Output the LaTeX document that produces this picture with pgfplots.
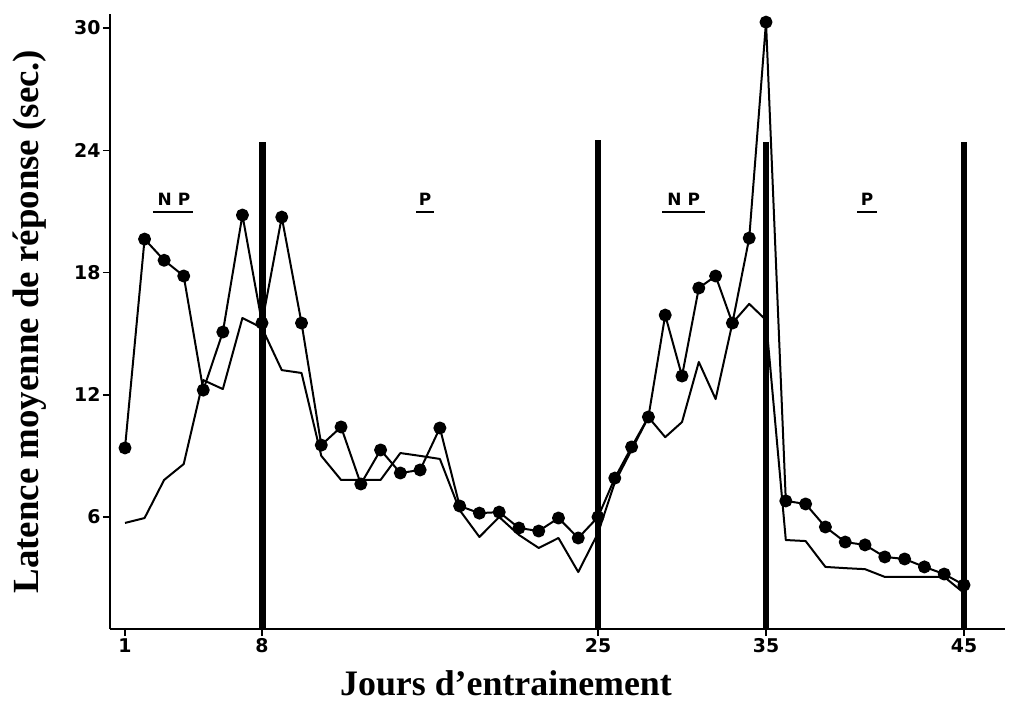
\documentclass[border=0pt]{standalone}
\usepackage{pgfplots}
\pgfplotsset{compat=1.18}
\usepackage{fontspec}
\setmainfont{Liberation Serif}
\newfontfamily\tickfont{DejaVu Sans}

\pgfplotstableread{
day val
1 9.39
2 19.64
3 18.6
4 17.83
5 12.23
6 15.08
7 20.82
8 15.52
9 20.72
10 15.52
11 9.53
12 10.42
13 7.62
14 9.29
15 8.16
16 8.31
17 10.37
18 6.54
19 6.19
20 6.24
21 5.46
22 5.31
23 5.95
24 4.97
25 6.0
26 7.91
27 9.44
28 10.91
29 15.91
30 12.92
31 17.24
32 17.83
33 15.52
34 19.69
35 30.29
36 6.79
37 6.64
38 5.51
39 4.77
40 4.63
41 4.04
42 3.94
43 3.55
44 3.2
45 2.66
}\dotdata

\pgfplotstableread{
day val
1 5.71
2 5.95
3 7.82
4 8.6
5 12.72
6 12.28
7 15.77
8 15.28
9 13.21
10 13.07
11 9.0
12 7.82
13 7.82
14 7.82
15 9.14
16 9.0
17 8.85
18 6.34
19 5.02
20 6.0
21 5.12
22 4.48
23 4.97
24 3.3
25 5.21
26 7.7
27 9.3
28 10.9
29 9.92
30 10.66
31 13.61
32 11.79
33 15.52
34 16.46
35 15.67
36 4.87
37 4.82
38 3.55
39 3.49
40 3.44
41 3.06
42 3.06
43 3.06
44 3.06
45 2.27
}\linedata

\begin{document}
\begin{tikzpicture}
\begin{axis}[
  name=ax,
  scale only axis, width=895bp, height=615bp,
  x coord trafo/.code={\pgfmathparse{ifthenelse(#1<8, 125+(#1-1)*19.5714, ifthenelse(#1<25, 262+(#1-8)*19.7647, ifthenelse(#1<35, 598+(#1-25)*16.8, 766+(#1-35)*19.8)))}},
  xmin=0.2336, xmax=47.07,
  ymin=0.503, ymax=30.69,
  axis lines*=left,
  axis line style={line width=1.8bp, black},
  xtick={1,8,25,35,45},
  xticklabels={1,8,25,35,45},
  ytick={6,12,18,24,30},
  yticklabels={6,12,18,24,30},
  tick align=outside,
  major tick length=7bp,
  tick style={line width=1.5bp, black},
  /pgf/number format/assume math mode=true,
  tick label style={font=\tickfont\bfseries\fontsize{19}{19}\selectfont},
  yticklabel style={xshift=1bp},
  xticklabel style={yshift=1bp},
  xlabel={Jours d’entrainement},
  ylabel={Latence moyenne de réponse (sec.)},
  xlabel style={font=\bfseries\fontsize{36}{36}\selectfont, at={(axis description cs:0.4425,-0.108)}, anchor=base},
  ylabel style={font=\bfseries\fontsize{37}{37}\selectfont, at={(axis description cs:-0.0804,0.5)}, anchor=base},
  clip=false,
]
% phase separators
\addplot[black, line width=7bp, line cap=butt] coordinates {(8,0.503) (8,24.4)};
\addplot[black, line width=5.5bp, line cap=butt] coordinates {(25,0.503) (25,24.5)};
\addplot[black, line width=6.5bp, line cap=butt] coordinates {(35,0.503) (35,24.4)};
\addplot[black, line width=5.5bp, line cap=butt] coordinates {(45,0.503) (45,24.4)};
% series
\addplot[black, line width=2bp, line join=round] table[x=day, y=val] {\linedata};
\addplot[black, line width=2bp, line join=round, mark=*, mark size=5.5bp, mark options={solid, fill=black}] table[x=day, y=val] {\dotdata};
% annotations
\node[font=\tickfont\bfseries\fontsize{17}{17}\selectfont] at (axis cs:3.5,21.6) {N P};
\draw[line width=1.8bp] (axis cs:2.43,20.97) -- (axis cs:4.47,20.97);
\node[font=\tickfont\bfseries\fontsize{17}{17}\selectfont] at (axis cs:16.25,21.6) {P};
\draw[line width=1.8bp] (axis cs:15.8,20.97) -- (axis cs:16.7,20.97);
\node[font=\tickfont\bfseries\fontsize{17}{17}\selectfont] at (axis cs:30.1,21.6) {N P};
\draw[line width=1.8bp] (axis cs:28.81,20.97) -- (axis cs:31.37,20.97);
\node[font=\tickfont\bfseries\fontsize{17}{17}\selectfont] at (axis cs:40.1,21.6) {P};
\draw[line width=1.8bp] (axis cs:39.6,20.97) -- (axis cs:40.6,20.97);
\end{axis}
\pgfresetboundingbox
\path ([shift={(-110bp,-75bp)}]ax.south west) rectangle ([shift={(4bp,14bp)}]ax.north east);
\end{tikzpicture}
\end{document}
